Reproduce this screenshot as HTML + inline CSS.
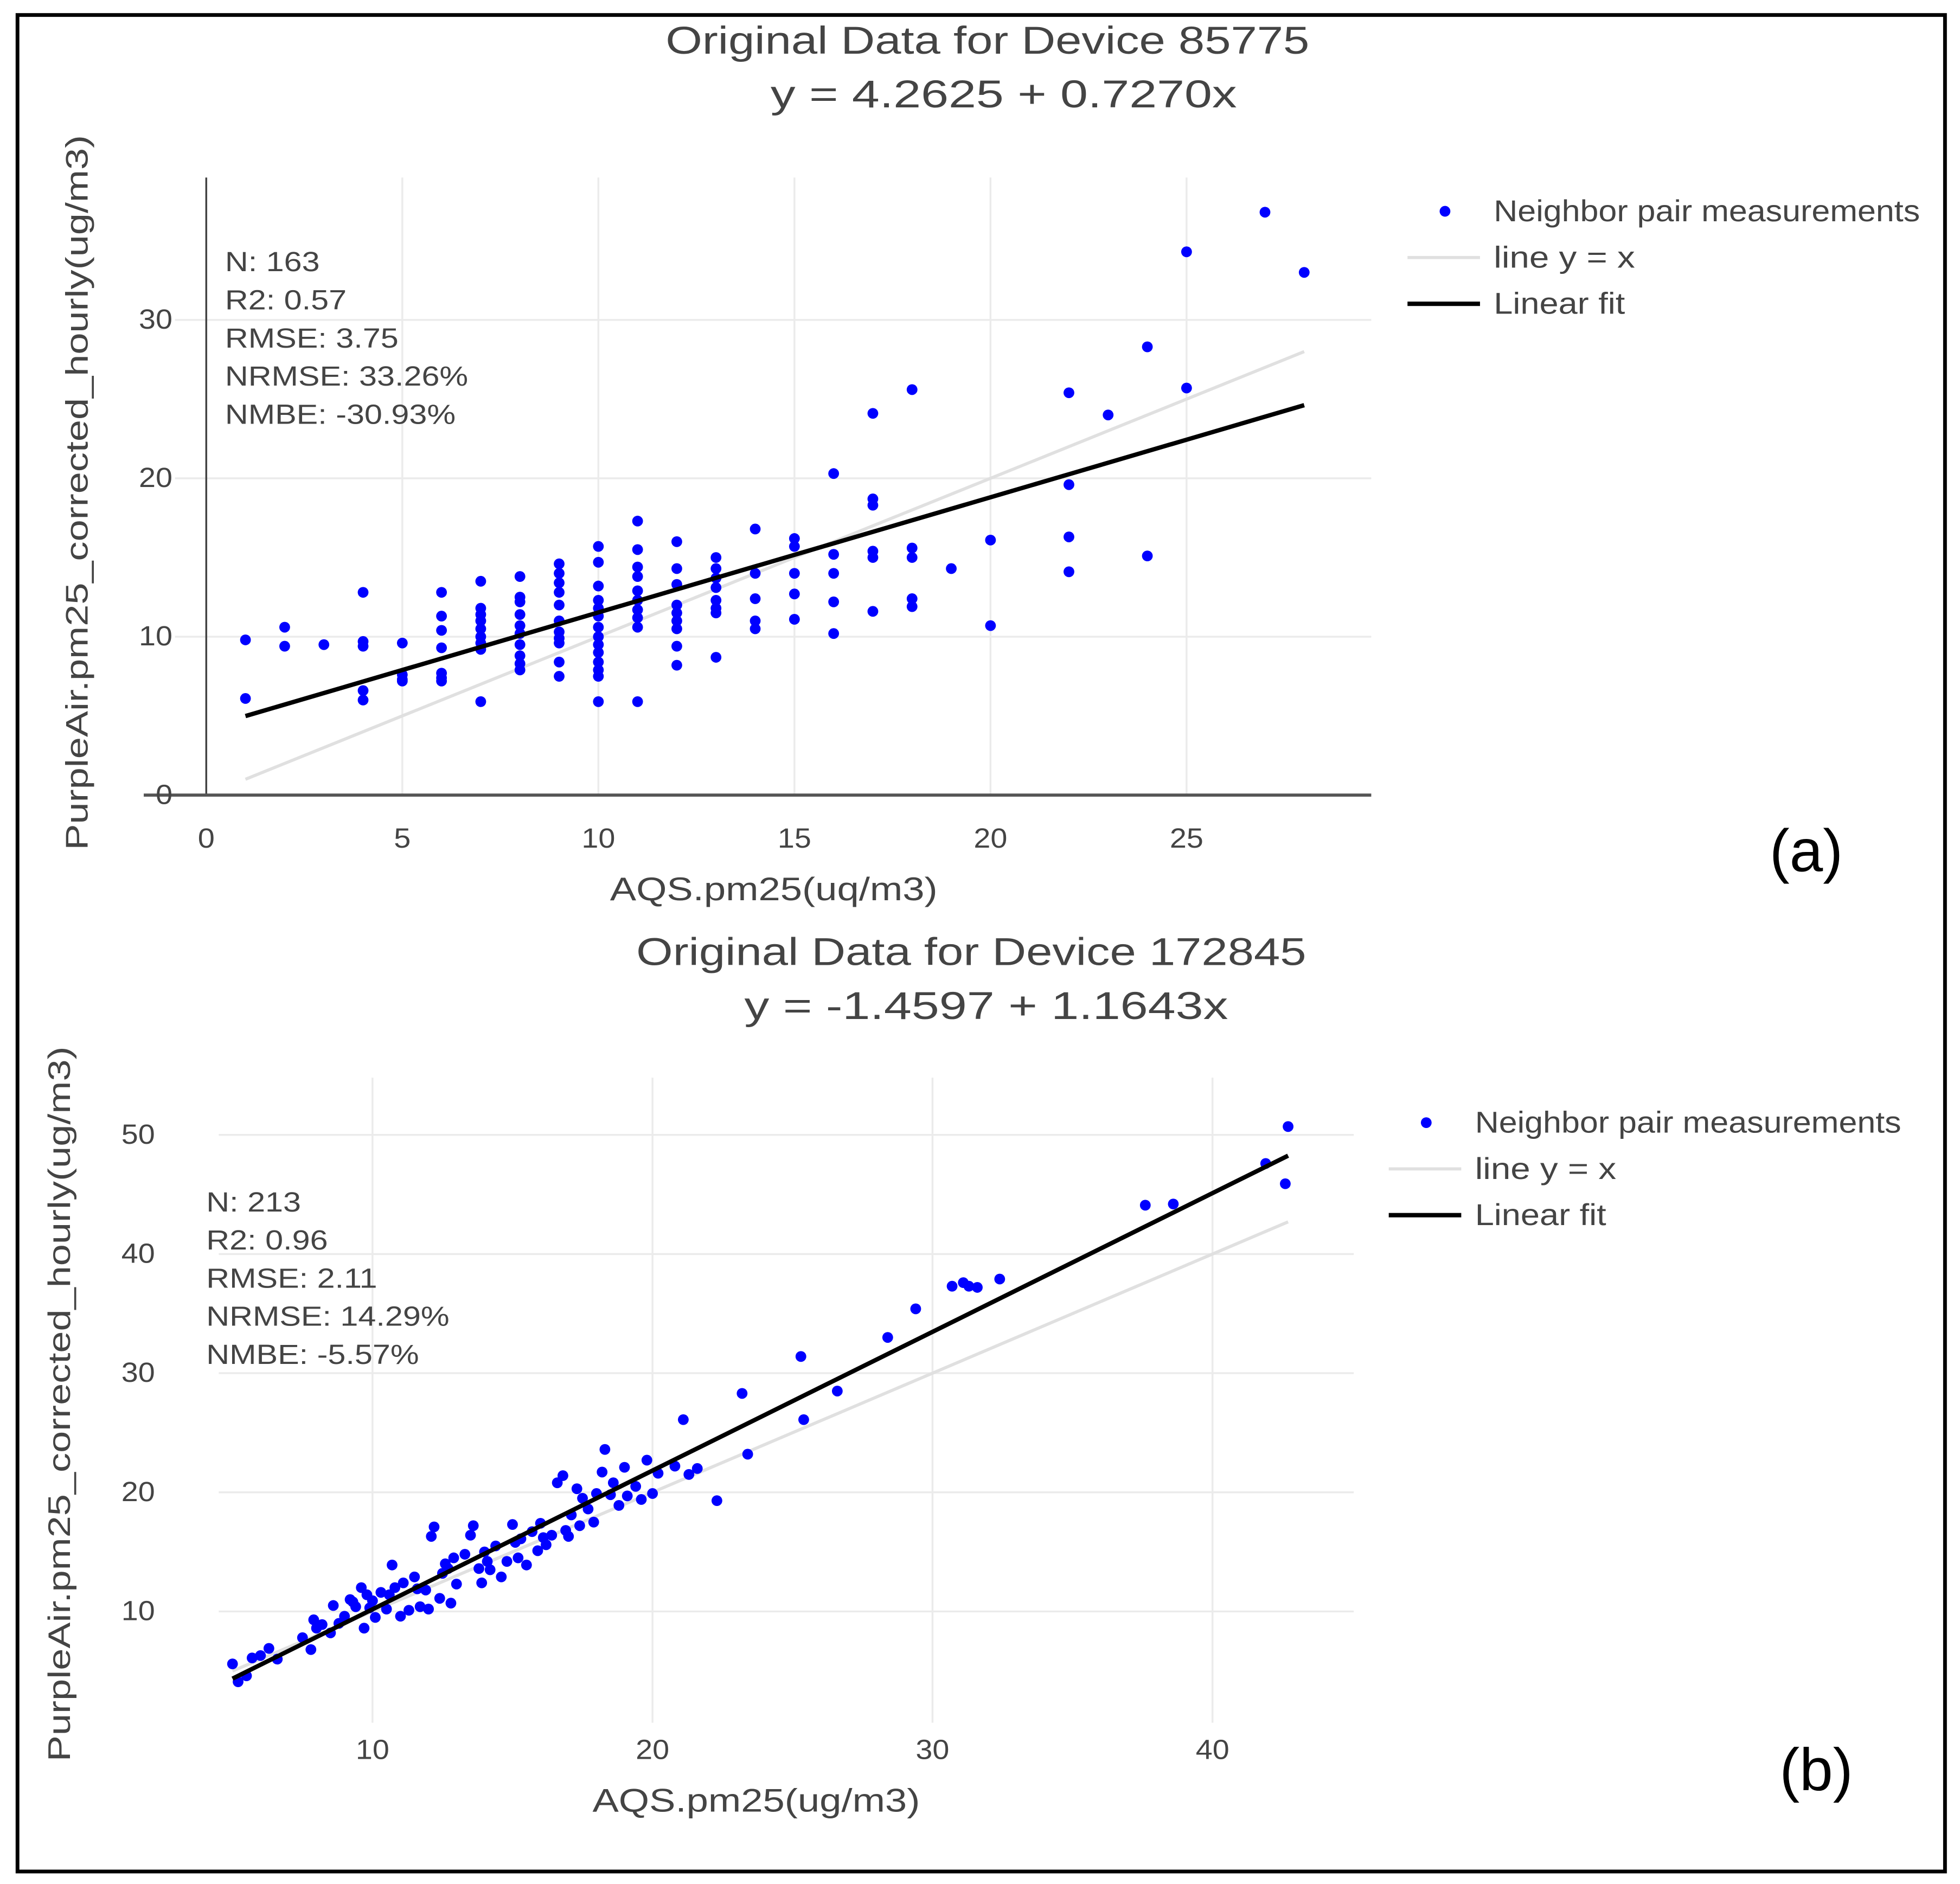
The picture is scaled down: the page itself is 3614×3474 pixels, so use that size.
<!DOCTYPE html>
<html><head><meta charset="utf-8">
<style>
html,body{margin:0;padding:0;background:#fff;}
svg{display:block;}
text{font-family:"Liberation Sans",sans-serif;fill:#444;}
</style></head>
<body>
<svg id="fig" width="3614" height="3474" viewBox="0 0 1568 1507" preserveAspectRatio="none" xmlns="http://www.w3.org/2000/svg">
<rect x="14" y="12" width="1542" height="1485" fill="#fff" stroke="#000" stroke-width="3"/>
<g id="pa"></g>
<g id="pb"></g>
</svg>
<script>
// ---- Chart (a) data ----
const aX = [1,1,2,2,3,4,4,4,4,4,5,5,5,5,6,6,6,6,6,6,6,7,7,7,7,7,7,7,7,7,8,8,8,8,8,8,8,8,8,8,9,9,9,9,9,9,9,9,9,9,9,10,10,10,10,10,10,10,10,10,10,10,10,10,10,11,11,11,11,11,11,11,11,11,11,12,12,12,12,12,12,12,12,12,13,13,13,13,13,13,13,13,14,14,14,14,14,15,15,15,15,15,16,16,16,16,16,17,17,17,17,17,17,18,18,18,18,18,19,20,20,22,22,22,22,23,24,24,25,25,27,28];
const aY = [9.8,6.1,10.6,9.4,9.5,12.8,9.7,9.4,6.6,6.0,9.6,7.6,7.3,7.2,12.8,11.3,10.4,9.3,7.7,7.4,7.2,13.5,11.8,11.4,11.0,10.5,10.0,9.6,9.2,5.9,13.8,12.5,12.2,11.4,10.7,10.2,9.5,8.8,8.3,7.9,14.6,14.0,13.4,12.8,12.0,11.0,10.3,9.9,9.6,8.4,7.5,15.7,14.7,13.2,12.3,11.8,11.3,10.6,10.0,9.5,9.0,8.4,7.9,7.5,5.9,17.3,15.5,14.4,13.8,12.9,12.3,11.7,11.2,10.6,5.9,16.0,14.3,13.3,12.0,11.5,11.0,10.5,9.4,8.2,15.0,14.3,13.7,13.1,12.3,11.8,11.5,8.7,16.8,14.0,12.4,11.0,10.5,16.2,15.7,14.0,12.7,11.1,20.3,15.2,14.0,12.2,10.2,24.1,18.7,18.3,15.4,15.0,11.6,25.6,15.6,15.0,12.4,11.9,14.3,16.1,10.7,25.4,19.6,16.3,14.1,24.0,28.3,15.1,34.3,25.7,36.8,33.0];
const aXTicks = [0,5,10,15,20,25];
const aYTicks = [0,10,20,30];
const aFit = [4.2625, 0.7270];
const aRange = [1, 28];
const aStats = ["N: 163","R2: 0.57","RMSE: 3.75","NRMSE: 33.26%","NMBE: -30.93%"];

// ---- Chart (b) data ----
const bX = [5.0,5.2,5.5,5.7,6.0,6.3,6.6,7.5,7.8,7.9,8.0,8.2,8.5,8.6,8.8,9.0,9.2,9.4,9.6,9.7,9.8,10.0,10.1,10.3,10.5,10.7,10.8,11.0,11.1,11.3,11.5,11.7,11.9,12.0,12.1,12.2,12.4,12.5,12.6,12.8,12.9,13.0,13.3,13.5,13.6,13.8,13.9,14.0,14.2,14.4,14.6,14.8,15.0,15.2,15.3,15.5,15.7,15.9,16.0,16.2,16.4,16.6,16.8,17.0,17.1,17.3,17.5,17.7,17.9,18.0,18.2,18.3,18.5,18.6,18.8,19.0,19.1,19.4,19.6,19.8,20.0,20.2,20.8,21.1,21.3,21.6,22.3,23.2,23.4,25.3,25.4,26.6,28.4,29.4,30.7,31.1,31.3,31.6,32.4,37.6,38.6,41.9,42.7,42.6,9.3,9.9,10.6,11.6,12.7,14.1,15.1,16.1,16.9,17.4];
const bY = [5.6,4.1,4.6,6.1,6.3,6.9,6.0,7.8,6.8,9.3,8.6,8.9,8.2,10.5,9.0,9.6,11.0,10.4,12.0,8.6,11.4,10.9,9.5,11.6,10.2,13.9,12.0,9.6,12.4,10.1,12.9,10.4,11.8,10.2,16.3,17.1,11.1,13.2,14.0,10.7,14.5,12.3,14.8,16.4,17.2,13.6,12.4,15.0,13.5,15.5,12.9,14.2,17.3,14.5,16.1,13.9,16.7,15.1,17.4,15.6,16.4,20.8,21.4,16.3,18.1,20.3,19.5,18.6,17.5,19.9,21.7,23.6,19.8,20.8,18.9,22.1,19.7,20.5,19.4,22.7,19.9,21.6,22.2,26.1,21.5,22.0,19.3,28.3,23.2,31.4,26.1,28.5,33.0,35.4,37.3,37.6,37.3,37.2,37.9,44.1,44.2,47.6,50.7,45.9,10.8,10.3,11.4,11.9,13.6,14.2,15.8,16.2,16.8,17.2];
const bXTicks = [10,20,30,40];
const bYTicks = [10,20,30,40,50];
const bFit = [-1.4597, 1.1643];
const bRange = [5, 42.7];
const bStats = ["N: 213","R2: 0.96","RMSE: 2.11","NRMSE: 14.29%","NMBE: -5.57%"];

const NS = "http://www.w3.org/2000/svg";
function mk(parent, tag, attrs, txt){
  const e = document.createElementNS(NS, tag);
  for (const k in attrs) e.setAttribute(k, attrs[k]);
  if (txt !== undefined) e.textContent = txt;
  parent.appendChild(e);
  return e;
}
function stretch(el, f){
  const w = el.getComputedTextLength();
  el.setAttribute('textLength', (w*f).toFixed(1));
  el.setAttribute('lengthAdjust', 'spacingAndGlyphs');
}
function fixW(el, w){
  el.setAttribute('textLength', w);
  el.setAttribute('lengthAdjust', 'spacingAndGlyphs');
}

function drawChart(g, cfg){
  const sx = v => cfg.x0 + (v - cfg.xv0) * cfg.kx;
  const sy = v => cfg.y0 - (v - cfg.yv0) * cfg.ky;
  cfg.xTicks.forEach(t => {
    if (t === 0 && cfg.axes) return;
    const l = mk(g, "line", {x1:sx(t), x2:sx(t), y1:cfg.top, y2:cfg.bottom, stroke:"#ebebeb", "stroke-width":1.5});
    
    
  });
  cfg.yTicks.forEach(t => {
    if (t === 0 && cfg.axes) return;
    const l = mk(g, "line", {x1:cfg.left, x2:cfg.right, y1:sy(t), y2:sy(t), stroke:"#ebebeb", "stroke-width":1.5});
    
    
  });
  if (cfg.axes){
    const ya = mk(g, "line", {x1:sx(0), x2:sx(0), y1:cfg.top, y2:sy(0), stroke:"#444", "stroke-width":1.5});
    
    
    const xa = mk(g, "line", {x1:cfg.left-25, x2:cfg.right, y1:sy(0), y2:sy(0), stroke:"#555", "stroke-width":2.5});
    
    
  }
  cfg.xTicks.forEach(t => {
    const tx = mk(g, "text", {x:sx(t), y:cfg.xTickY, "text-anchor":"middle", "font-size":22}, String(t));
    
    
    stretch(tx, 1.1);
  });
  cfg.yTicks.forEach(t => {
    const tx = mk(g, "text", {x:cfg.yTickX, y:sy(t)+7, "text-anchor":"end", "font-size":22}, String(t));
    
    
    stretch(tx, 1.1);
  });
  const l1 = mk(g, "line", {x1:sx(cfg.range[0]), y1:sy(cfg.range[0]), x2:sx(cfg.range[1]), y2:sy(cfg.range[1]), stroke:"#e0e0e0", "stroke-width":2.5});
  
  
  cfg.xs.forEach((x, i) => {
    const c = mk(g, "circle", {cx:sx(x), cy:sy(cfg.ys[i]), r:4.3, fill:"#0000ff"});
    
    
  });
  const f = v => cfg.fit[0] + cfg.fit[1]*v;
  const l2 = mk(g, "line", {x1:sx(cfg.range[0]), y1:sy(f(cfg.range[0])), x2:sx(cfg.range[1]), y2:sy(f(cfg.range[1])), stroke:"#000", "stroke-width":3.5});
  
  
  cfg.stats.forEach((s, i) => {
    const t = mk(g, "text", {x:cfg.statX, y:cfg.statY + i*30.5, "font-size":22}, s);
    
    
    stretch(t, 1.17);
  });
  const t1 = mk(g, "text", {x:cfg.titleX, y:cfg.titleY, "text-anchor":"middle", "font-size":31}, cfg.title);
  
  
  fixW(t1, cfg.titleW);
  const t2 = mk(g, "text", {x:cfg.eqX, y:cfg.titleY+43, "text-anchor":"middle", "font-size":31}, cfg.eq);
  
  
  fixW(t2, cfg.eqW);
  const xt = mk(g, "text", {x:cfg.xTitleX, y:cfg.xTitleY, "text-anchor":"middle", "font-size":26}, cfg.xTitle);
  
  
  fixW(xt, cfg.xTitleW);
  const yt = mk(g, "text", {x:0, y:0, "text-anchor":"middle", "font-size":25, transform:"translate("+cfg.yTitleX+","+cfg.yTitleY+") rotate(-90)"}, "PurpleAir.pm25_corrected_hourly(ug/m3)");
  
  
  fixW(yt, cfg.yTitleW);
  const lx = cfg.legX, ly = cfg.legY;
  const lm = mk(g, "circle", {cx:lx+30, cy:ly, r:4.3, fill:"#0000ff"});
  
  
  const lt1 = mk(g, "text", {x:lx+69, y:ly+8, "font-size":24}, "Neighbor pair measurements");
  
  
  fixW(lt1, 341);
  const ll1 = mk(g, "line", {x1:lx, x2:lx+58, y1:ly+37, y2:ly+37, stroke:"#e0e0e0", "stroke-width":2.5});
  
  
  const lt2 = mk(g, "text", {x:lx+69, y:ly+45, "font-size":24}, "line y = x");
  
  
  fixW(lt2, 113);
  const ll2 = mk(g, "line", {x1:lx, x2:lx+58, y1:ly+74, y2:ly+74, stroke:"#000", "stroke-width":3.5});
  
  
  const lt3 = mk(g, "text", {x:lx+69, y:ly+82, "font-size":24}, "Linear fit");
  
  
  fixW(lt3, 105);
  const pl = mk(g, "text", {x:cfg.panelX, y:cfg.panelY, "text-anchor":"middle", "font-size":48, style:"fill:#000"}, cfg.panel);
  
  
}

drawChart(document.getElementById("pa"), {
  xs:aX, ys:aY, xTicks:aXTicks, yTicks:aYTicks, fit:aFit, range:aRange, stats:aStats,
  x0:165, xv0:0, kx:31.37, y0:636, yv0:0, ky:12.67,
  left:140, right:1097, top:142, bottom:636, axes:true,
  xTickY:678, yTickX:138, statX:180, statY:217,
  title:"Original Data for Device 85775", eq:"y = 4.2625 + 0.7270x", titleX:790, eqX:803, titleY:43, titleW:515, eqW:373,
  xTitle:"AQS.pm25(uq/m3)", xTitleX:619, xTitleY:720, xTitleW:262, yTitleX:70, yTitleY:394, yTitleW:572,
  legX:1126, legY:169, panel:"(a)", panelX:1445, panelY:697
});
drawChart(document.getElementById("pb"), {
  xs:bX, ys:bY, xTicks:bXTicks, yTicks:bYTicks, fit:bFit, range:bRange, stats:bStats,
  x0:298, xv0:10, kx:22.4, y0:1289, yv0:10, ky:9.53,
  left:175, right:1083, top:862, bottom:1378, axes:false,
  xTickY:1407, yTickX:124, statX:165, statY:969,
  title:"Original Data for Device 172845", eq:"y = -1.4597 + 1.1643x", titleX:777, eqX:789, titleY:772, titleW:536, eqW:387,
  xTitle:"AQS.pm25(ug/m3)", xTitleX:605, xTitleY:1449, xTitleW:262, yTitleX:56, yTitleY:1123, yTitleW:572,
  legX:1111, legY:898, panel:"(b)", panelX:1453, panelY:1432
});
</script>
</body></html>
